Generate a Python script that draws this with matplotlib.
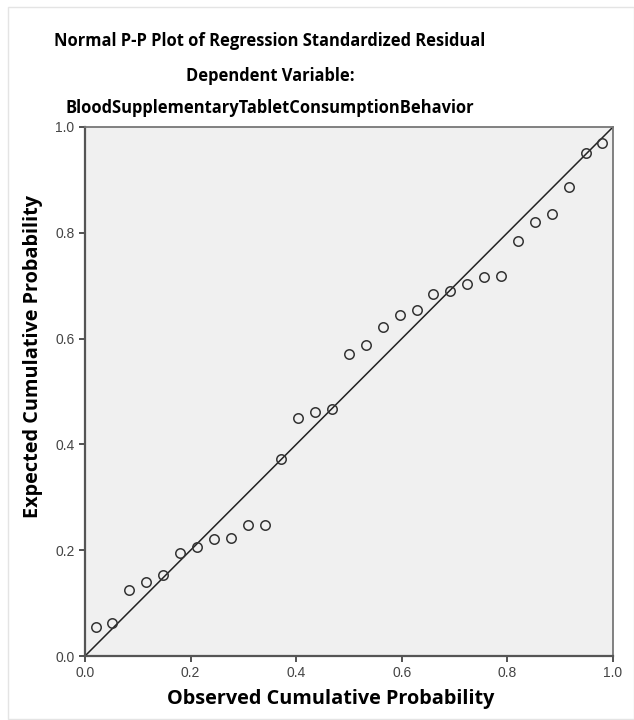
import matplotlib
matplotlib.use("Agg")
import matplotlib.pyplot as plt
from matplotlib.patches import Rectangle

# observed vs expected cumulative probability
observed = [0.020, 0.052, 0.084, 0.116, 0.148, 0.180, 0.212, 0.244, 0.276,
            0.308, 0.340, 0.372, 0.404, 0.436, 0.468, 0.500, 0.532, 0.564,
            0.596, 0.628, 0.660, 0.692, 0.724, 0.756, 0.788, 0.820, 0.852,
            0.884, 0.916, 0.948, 0.980]
expected = [0.055, 0.063, 0.125, 0.139, 0.154, 0.195, 0.206, 0.222, 0.224,
            0.247, 0.248, 0.372, 0.449, 0.461, 0.466, 0.570, 0.588, 0.622,
            0.644, 0.655, 0.684, 0.690, 0.703, 0.716, 0.718, 0.784, 0.820,
            0.835, 0.886, 0.950, 0.970]
ticks = [0.0, 0.2, 0.4, 0.6, 0.8, 1.0]
title_lines = ["Normal P-P Plot of Regression Standardized Residual",
               "Dependent Variable:",
               "BloodSupplementaryTabletConsumptionBehavior"]

fig = plt.figure(figsize=(6.34, 7.2), dpi=100)
fig.patch.set_facecolor("white")
fig.patches.append(Rectangle((8 / 634, 0.002), 1 - 8 / 634, 1 - 7 / 720 - 0.002,
                             transform=fig.transFigure, fill=False,
                             edgecolor="#e4e4e4", linewidth=1.0))

ax = fig.add_axes([85 / 634, 64 / 720, 528 / 634, 529 / 720])
ax.set_facecolor("#f0f0f0")

ax.plot([0, 1], [0, 1], color="#222222", linewidth=1.1, zorder=2)
ax.plot(observed, expected, linestyle="none", marker="o", markersize=6.8,
        markerfacecolor="none", markeredgecolor="#333333",
        markeredgewidth=1.1, zorder=3)

ax.set_xlim(0, 1)
ax.set_ylim(0, 1)
ax.set_xticks(ticks)
ax.set_yticks(ticks)
ax.set_xticklabels([f"{t:.1f}" for t in ticks])
ax.set_yticklabels([f"{t:.1f}" for t in ticks])
ax.tick_params(direction="out", length=4.5, width=1.3, color="#444444",
               labelsize=10, labelcolor="#444444", pad=3)
for lab in ax.get_xticklabels() + ax.get_yticklabels():
    lab.set_family("Liberation Sans")

for side in ["left", "bottom"]:
    ax.spines[side].set_color("#555555")
    ax.spines[side].set_linewidth(1.6)
for side in ["top", "right"]:
    ax.spines[side].set_color("#777777")
    ax.spines[side].set_linewidth(1.3)

title_y = [1 - 41 / 720, 1 - 76 / 720, 1 - 108 / 720]
for txt, yy in zip(title_lines, title_y):
    fig.text(270 / 634, yy, txt, ha="center", va="center", fontsize=11.9,
             fontweight="bold", family="Open Sans", color="black")

fig.text(331 / 634, 1 - 699 / 720, "Observed Cumulative Probability",
         ha="center", va="center", fontsize=14.3, fontweight="bold",
         family="Open Sans")
fig.text(33 / 634, 1 - 357 / 720, "Expected Cumulative Probability",
         ha="center", va="center", rotation=90, fontsize=14.3,
         fontweight="bold", family="Open Sans")

fig.savefig("out.png", dpi=100)
